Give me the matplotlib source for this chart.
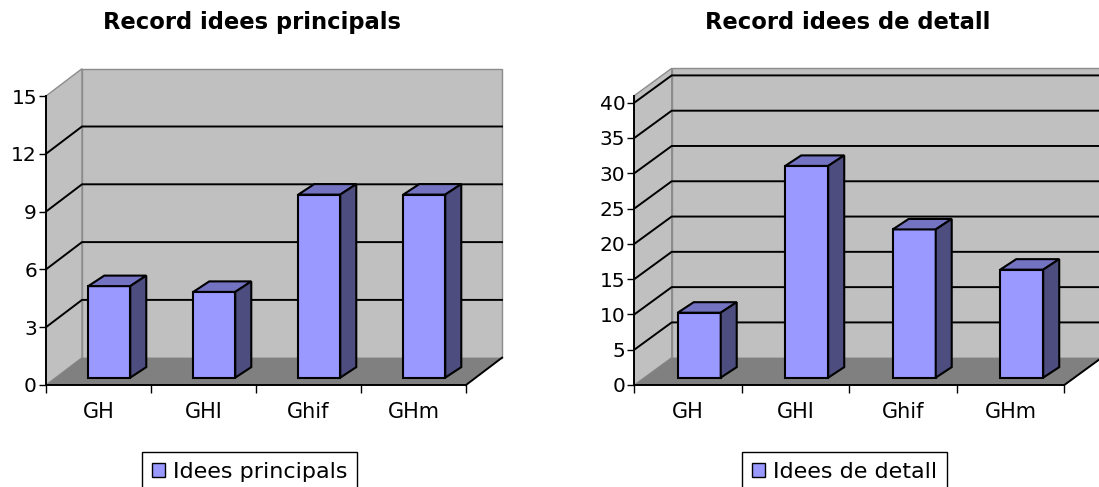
import matplotlib
matplotlib.use("Agg")
import matplotlib.pyplot as plt
from matplotlib.patches import Polygon, Patch
from matplotlib.ticker import FixedLocator, NullFormatter, FixedFormatter

# ---- data ----
categories = ["GH", "GHI", "Ghif", "GHm"]
principals = [4.75, 4.45, 9.5, 9.5]
detall = [9.2, 30, 21, 15.3]
ticks_principals = [0, 3, 6, 9, 12, 15]
ticks_detall = [0, 5, 10, 15, 20, 25, 30, 35, 40]

W, H = 1099, 487
fig = plt.figure(figsize=(W / 100, H / 100), dpi=100)
plt.rcParams['font.family'] = ['DejaVu Sans']

FRONT = "#9999FF"
TOP = "#7373C2"
SIDE = "#4D4D80"
WALL = "#C0C0C0"
FLOOR = "#808080"
WALL_EDGE = "#8C8C8C"


def panel(x_left, x_right, y_zero, px_per_unit, wall_top, ticks, values,
          title, title_x, legend_label, legend_x, wall_px=(36, 27.3)):
    ncat = len(categories)
    height_px = wall_top * px_per_unit
    ax = fig.add_axes([x_left / W, (H - y_zero) / H,
                       (x_right - x_left) / W, height_px / H])
    ax.set_xlim(0, ncat)
    ax.set_ylim(0, wall_top)
    ax.patch.set_alpha(0)

    kx = ncat / (x_right - x_left)      # data units per pixel, x
    ky = 1.0 / px_per_unit              # data units per pixel, y
    dx, dy = wall_px[0] * kx, wall_px[1] * ky
    bx, by = 16 * kx, 10.5 * ky         # bar depth
    f0 = 0.27                           # bar front position inside the floor

    def poly(pts, fc, ec, lw, z):
        ax.add_patch(Polygon(pts, closed=True, facecolor=fc, edgecolor=ec,
                             linewidth=lw, zorder=z, clip_on=False,
                             joinstyle="miter"))

    # walls and floor
    poly([(0, 0), (dx, dy), (dx, wall_top + dy), (0, wall_top)],
         WALL, WALL_EDGE, 1.0, 1)
    poly([(dx, dy), (ncat + dx, dy), (ncat + dx, wall_top + dy),
          (dx, wall_top + dy)], WALL, WALL_EDGE, 1.0, 1)
    poly([(0, 0), (ncat, 0), (ncat + dx, dy), (dx, dy)],
         FLOOR, "none", 0, 1.5)
    ax.plot([ncat, ncat + dx], [0, dy], color="black", lw=1.4,
            zorder=2, clip_on=False)

    # gridlines on back wall and side wall
    for t in ticks:
        if t == 0 or t >= wall_top:
            continue
        ax.plot([0, dx, ncat + dx], [t, t + dy, t + dy], color="black",
                lw=1.4, zorder=2, clip_on=False, solid_joinstyle="miter")

    # bars
    for i, v in enumerate(values):
        x0 = i + 0.31 + f0 * dx
        x1 = x0 + 0.4
        yb = f0 * dy
        yt = yb + v
        poly([(x0, yb), (x1, yb), (x1, yt), (x0, yt)], FRONT, "black", 1.5, 3)
        poly([(x0, yt), (x1, yt), (x1 + bx, yt + by), (x0 + bx, yt + by)],
             TOP, "black", 1.5, 3)
        poly([(x1, yb), (x1 + bx, yb + by), (x1 + bx, yt + by), (x1, yt)],
             SIDE, "black", 1.5, 3)

    # axes
    for s in ("top", "right"):
        ax.spines[s].set_visible(False)
    for s in ("left", "bottom"):
        ax.spines[s].set_color("black")
        ax.spines[s].set_linewidth(1.4)
        ax.spines[s].set_zorder(5)
    ax.set_yticks(ticks)
    ax.set_yticklabels([str(t) for t in ticks], fontsize=14.5)
    ax.tick_params(axis="y", direction="out", length=5, width=1.0, pad=1.5,
                   colors="black")
    ax.xaxis.set_major_locator(FixedLocator(range(ncat + 1)))
    ax.xaxis.set_major_formatter(NullFormatter())
    ax.xaxis.set_minor_locator(FixedLocator([i + 0.5 for i in range(ncat)]))
    ax.xaxis.set_minor_formatter(FixedFormatter(categories))
    ax.tick_params(axis="x", which="minor", length=0, pad=12, labelsize=15,
                   colors="black")
    ax.tick_params(axis="x", which="major", direction="out", length=5.5,
                   width=1.0, colors="black")

    fig.text(title_x / W, 1 - 22.5 / H, title, ha="center", va="center",
             fontsize=16.3, fontweight="bold")

    fig.legend(handles=[Patch(facecolor=FRONT, edgecolor="black",
                              linewidth=1.0, label=legend_label)],
               loc="upper left",
               bbox_to_anchor=(legend_x / W, 1 - 451.7 / H),
               bbox_transform=fig.transFigure, borderaxespad=0,
               fontsize=16, frameon=True, fancybox=False, shadow=False,
               edgecolor="black", framealpha=1, borderpad=0.45,
               handlelength=0.62, handleheight=0.62, handletextpad=0.32)
    fig.legends[-1].get_frame().set_linewidth(1.0)
    return ax


panel(46, 466, 385, 289 / 15, 15, ticks_principals, principals,
      "Record idees principals", 252, "Idees principals", 141.7,
      wall_px=(36, 27.3))
panel(634.3, 1064.3, 385, 282.3 / 40, 41, ticks_detall, detall,
      "Record idees de detall", 848, "Idees de detall", 741.7,
      wall_px=(37.4, 27.3))

fig.savefig("out.png", dpi=100, facecolor="white")
